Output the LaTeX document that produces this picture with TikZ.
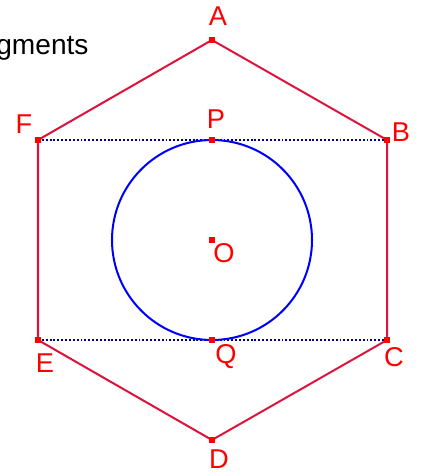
\documentclass[tikz,border=0pt]{standalone}
\usepackage{fontspec}
\setmainfont{Liberation Sans}
\definecolor{hexred}{RGB}{220,20,60}
\definecolor{navyline}{RGB}{0,0,128}

\begin{document}
\begin{tikzpicture}[x=0.02cm,y=-0.02cm,
  side/.style={hexred,line width=1.15pt},
  chord/.style={navyline,line width=1.1pt,dash pattern=on 1.1pt off 1.1pt},
  ptlabel/.style={text=red,font=\fontsize{15.5}{18}\selectfont,inner sep=0pt}]
  \useasboundingbox (0,0) rectangle (421,472);
  % vertices and points
  \coordinate (A) at (212,40);
  \coordinate (B) at (387,140);
  \coordinate (C) at (387,340);
  \coordinate (D) at (212,440);
  \coordinate (E) at (38,340);
  \coordinate (F) at (38,140);
  \coordinate (O) at (212,240);
  \coordinate (P) at (212,140);
  \coordinate (Q) at (212,340);
  % cut-off title
  \node[anchor=base west,inner sep=0pt,font=\fontsize{16}{19}\selectfont] (title) at (-4,55) {gments};
  \draw[chord] (F) -- (B);
  \draw[chord] (E) -- (C);
  \draw[blue,line width=1.15pt] (O) circle (100);
  \draw[side] (A) -- (B) -- (C) -- (D) -- (E) -- (F) -- cycle;
  \foreach \p in {A,B,C,D,E,F,O,P,Q}
    \fill[red] (\p) +(-2.7,-2.7) rectangle +(2.7,2.7);
  \node[ptlabel] (lA) at (218,16)  {A};
  \node[ptlabel] (lB) at (401,132) {B};
  \node[ptlabel] (lC) at (394,357) {C};
  \node[ptlabel] (lD) at (219,459) {D};
  \node[ptlabel] (lE) at (45,363)  {E};
  \node[ptlabel] (lF) at (24,124)  {F};
  \node[ptlabel] (lO) at (224,253) {O};
  \node[ptlabel] (lP) at (216,119) {P};
  \node[ptlabel] (lQ) at (226,357) {Q};
\end{tikzpicture}
\end{document}
